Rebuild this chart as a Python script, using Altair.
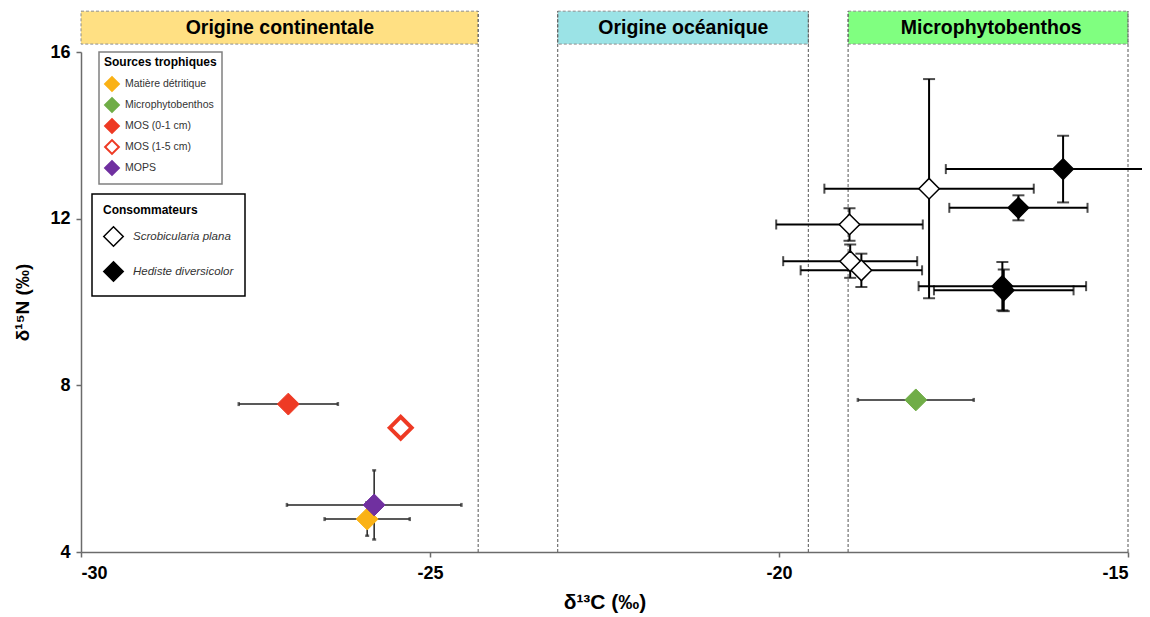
import altair as alt
import pandas as pd

FONT = "Liberation Sans, Arial, sans-serif"

# ---- Sources trophiques ----
src_names = ["Matière détritique", "Microphytobenthos", "MOS  (0-1 cm)", "MOS  (1-5 cm)", "MOPS"]
src_x = [-25.90, -18.04, -27.03, -25.42, -25.80]
src_y = [4.79, 7.65, 7.55, 6.98, 5.13]
src_xerr = [0.61, 0.83, 0.71, 0.0, 1.25]
src_yerr = [0.40, 0.0, 0.0, 0.0, 0.83]
src_fill = ["#FAB216", "#70AD47", "#EE3A24", "#FFFFFF", "#7030A0"]
src_stroke = ["#FAB216", "#70AD47", "#EE3A24", "#EE3A24", "#7030A0"]

# ---- Consommateurs ----
cons_names = ["Scrobicularia plana", "Hediste diversicolor"]
cons_species = ["Scrobicularia plana"] * 4 + ["Hediste diversicolor"] * 4
cons_x = [-17.85, -18.99, -18.98, -18.82, -15.93, -16.57, -16.80, -16.78]
cons_y = [12.72, 11.86, 10.98, 10.76, 13.19, 12.26, 10.38, 10.28]
cons_xerr = [1.50, 1.05, 0.96, 0.87, 1.68, 0.99, 1.20, 1.00]
cons_yerr = [2.63, 0.39, 0.40, 0.40, 0.80, 0.30, 0.58, 0.50]

# ---- Zones ----
zones = ["Origine continentale", "Origine océanique", "Microphytobenthos"]
zone_start = [-30.0, -23.17, -19.01]
zone_end = [-24.31, -19.58, -15.0]
zone_label_x = [-27.15, -21.37, -16.96]
zone_colors = ["#FFE083", "#9BE3E6", "#80FF80"]
band_low, band_high = 16.19, 16.98

src = pd.DataFrame({"source": src_names, "x": src_x, "y": src_y,
                    "xerr": src_xerr, "yerr": src_yerr})
src["x_lo"] = src.x - src.xerr
src["x_hi"] = src.x + src.xerr
src["y_lo"] = src.y - src.yerr
src["y_hi"] = src.y + src.yerr

cons = pd.DataFrame({"consumer": cons_species, "x": cons_x, "y": cons_y,
                     "xerr": cons_xerr, "yerr": cons_yerr})
cons["x_lo"] = cons.x - cons.xerr
cons["x_hi"] = cons.x + cons.xerr
cons["y_lo"] = cons.y - cons.yerr
cons["y_hi"] = cons.y + cons.yerr

zdf = pd.DataFrame({"zone": zones, "start": zone_start, "end": zone_end, "mid": zone_label_x})
zdf["lo"] = band_low
zdf["hi"] = band_high
zdf["ymid"] = (band_low + band_high) / 2

bounds = pd.DataFrame({"b": [v for v in zone_start + zone_end if v != -30.0]})
bounds["y0"] = 4.0
bounds["y1"] = band_high

def caps(df, col_a, col_b, other):
    a = df[[col_a, other]].rename(columns={col_a: "p"})
    b = df[[col_b, other]].rename(columns={col_b: "p"})
    return pd.concat([a, b], ignore_index=True)

xscale = alt.Scale(domain=[-30, -15], nice=False, zero=False)
yscale = alt.Scale(domain=[4, 16], nice=False, zero=False)
xaxis = alt.Axis(values=[-30, -25, -20, -15], labelExpr="'' + datum.value",
                 title="δ¹³C (‰)", titleFontSize=21, titlePadding=9)
yaxis = alt.Axis(values=[4, 8, 12, 16], labelExpr="'' + datum.value",
                 title="δ¹⁵N (‰)", titleFontSize=19, titlePadding=17)

def X(f):
    return alt.X(f, type="quantitative", scale=xscale, axis=xaxis)

def Y(f):
    return alt.Y(f, type="quantitative", scale=yscale, axis=yaxis)

# header boxes
hdr_rect = alt.Chart(zdf).mark_rect(stroke="#8c8c8c", strokeDash=[3, 2], strokeWidth=1).encode(
    x=X("start"), x2="end", y=Y("lo"), y2="hi",
    color=alt.Color("zone:N", scale=alt.Scale(domain=zones, range=zone_colors), legend=None),
)
hdr_text = alt.Chart(zdf).mark_text(font=FONT, fontSize=19.5, fontWeight="bold",
                                    color="black", baseline="middle").encode(
    x=X("mid"), y=Y("ymid"), text="zone:N")

zone_rules = alt.Chart(bounds).mark_rule(color="#555555", strokeDash=[3, 2], strokeWidth=1).encode(
    x=X("b"), y=Y("y0"), y2="y1")

# source error bars
src_h = alt.Chart(src).transform_filter("datum.xerr > 0").mark_rule(
    color="#222222", strokeWidth=1.5).encode(x=X("x_lo"), x2="x_hi", y=Y("y"))
src_v = alt.Chart(src).transform_filter("datum.yerr > 0").mark_rule(
    color="#222222", strokeWidth=1.5).encode(x=X("x"), y=Y("y_lo"), y2="y_hi")
src_hcap = alt.Chart(caps(src[src.xerr > 0], "x_lo", "x_hi", "y")).mark_tick(
    orient="vertical", size=4, thickness=2.5, color="#222222").encode(x=X("p"), y=Y("y"))
src_vcap = alt.Chart(caps(src[src.yerr > 0], "y_lo", "y_hi", "x")).mark_tick(
    orient="horizontal", size=4, thickness=2.5, color="#222222").encode(x=X("x"), y=Y("p"))

leg1 = alt.Legend(
    title="Sources trophiques", orient="none", legendX=18, legendY=0,
    symbolType="diamond", symbolSize=190, symbolStrokeWidth=2,
    titleFont=FONT, titleFontSize=12, titleFontWeight="bold", titleColor="black",
    labelFont=FONT, labelFontSize=10.5, labelColor="#333333", labelOffset=5,
    rowPadding=-1.0, padding=5, titlePadding=7,
    strokeColor="#808080", fillColor="white",
)
src_pts = alt.Chart(src).mark_point(shape="diamond", size=480, opacity=1, fillOpacity=1).encode(
    x=X("x"), y=Y("y"),
    fill=alt.Fill("source:N", scale=alt.Scale(domain=src_names, range=src_fill), legend=leg1),
    stroke=alt.Stroke("source:N", scale=alt.Scale(domain=src_names, range=src_stroke), legend=leg1),
    strokeWidth=alt.condition("datum.source == 'MOS  (1-5 cm)'", alt.value(4), alt.value(1)),
)

# consumer error bars
cons_h = alt.Chart(cons).mark_rule(color="black", strokeWidth=2).encode(
    x=X("x_lo"), x2="x_hi", y=Y("y"))
cons_v = alt.Chart(cons).mark_rule(color="black", strokeWidth=2).encode(
    x=X("x"), y=Y("y_lo"), y2="y_hi")
cons_hcap = alt.Chart(caps(cons, "x_lo", "x_hi", "y")).mark_tick(
    orient="vertical", size=10, thickness=2, color="black").encode(x=X("p"), y=Y("y"))
cons_vcap = alt.Chart(caps(cons, "y_lo", "y_hi", "x")).mark_tick(
    orient="horizontal", size=12, thickness=2, color="black").encode(x=X("x"), y=Y("p"))

leg2 = alt.Legend(
    title="Consommateurs", orient="none", legendX=11, legendY=142,
    symbolType="diamond", symbolSize=380, symbolStrokeWidth=1.5, symbolStrokeColor="black",
    titleFont=FONT, titleFontSize=12, titleFontWeight="bold", titleColor="black",
    labelFont=FONT, labelFontSize=11.5, labelFontStyle="italic", labelColor="#333333",
    labelOffset=9, rowPadding=8, padding=11, titlePadding=9,
    strokeColor="black", fillColor="white",
)
cons_pts = alt.Chart(cons).mark_point(shape="diamond", size=420, opacity=1, fillOpacity=1,
                                      strokeWidth=1.5).encode(
    x=X("x"), y=Y("y"),
    fill=alt.Fill("consumer:N", scale=alt.Scale(domain=cons_names, range=["white", "black"]),
                  legend=leg2),
    stroke=alt.value("black"),
)

chart = alt.layer(
    hdr_rect, hdr_text, zone_rules,
    src_h, src_v, src_hcap, src_vcap, src_pts,
    cons_h, cons_v, cons_hcap, cons_vcap, cons_pts,
).resolve_scale(
    fill="independent", stroke="independent"
).properties(
    width=1047, height=500,
    padding={"left": 73, "top": 44, "right": 14, "bottom": 65},
    autosize=alt.AutoSizeParams(type="none"),
    background="white",
).configure_view(
    stroke=None
).configure_axis(
    grid=False, domainColor="#6b6b6b", domainWidth=1.5, tickColor="#6b6b6b", tickWidth=1.5,
    tickSize=5, labelFont=FONT, labelFontSize=18, labelFontWeight="bold", labelColor="black",
    titleFont=FONT, titleFontWeight="bold", titleColor="black",
).configure_axisX(
    labelPadding=7
).configure_axisY(
    labelPadding=6
).configure_legend(
    strokeWidth=1.5, cornerRadius=0
)

chart.save("out.html", embed_options={"renderer": "svg", "actions": False})
